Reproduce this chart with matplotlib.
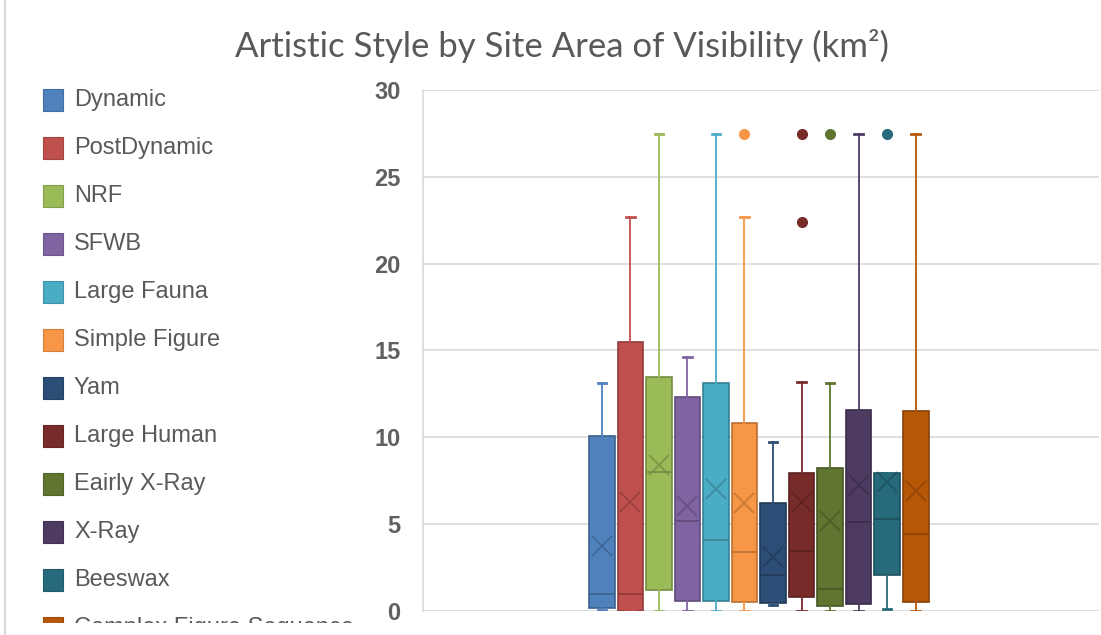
import numpy as np
import matplotlib
matplotlib.use("Agg")
import matplotlib.pyplot as plt
from matplotlib.lines import Line2D
from matplotlib.patches import Rectangle
from matplotlib.colors import to_rgb

plt.rcParams['font.family'] = ['Liberation Sans', 'DejaVu Sans']

series = ["Dynamic", "PostDynamic", "NRF", "SFWB", "Large Fauna", "Simple Figure",
          "Yam", "Large Human", "Eairly X-Ray", "X-Ray", "Beeswax", "Complex Figure Sequence"]
colors = ["#4F81BD", "#C0504D", "#9BBB59", "#8064A2", "#4BACC6", "#F79646",
          "#2C4D75", "#772C2A", "#5F7530", "#4D3B62", "#276A7C", "#B65708"]

whislo = [0.05, 0.0, 0.0, 0.0, 0.0, 0.0, 0.35, 0.0, 0.0, 0.0, 0.1, 0.0]
q1 = [0.15, 0.0, 1.2, 0.6, 0.6, 0.5, 0.45, 0.8, 0.3, 0.4, 2.05, 0.5]
med = [1.0, 1.0, 8.0, 5.2, 4.1, 3.4, 2.05, 3.45, 1.25, 5.15, 5.3, 4.45]
q3 = [10.1, 15.5, 13.45, 12.3, 13.1, 10.8, 6.2, 7.95, 8.25, 11.6, 7.95, 11.5]
whishi = [13.1, 22.7, 27.45, 14.6, 27.45, 22.7, 9.75, 13.2, 13.1, 27.45, 7.95, 27.45]
means = [3.75, 6.3, 8.4, 6.05, 7.05, 6.2, 3.1, 6.3, 5.2, 7.25, 7.45, 6.9]
fliers = [[], [], [], [], [], [27.45], [], [27.45, 22.4], [27.45], [], [27.45], []]

title = "Artistic Style by Site Area of Visibility (km²)"
yticks = [0, 5, 10, 15, 20, 25, 30]


def darker(c, f=0.75):
    r, g, b = to_rgb(c)
    return (r * f, g * f, b * f)


W, H = 1101, 635
fig = plt.figure(figsize=(W / 100, H / 100), dpi=100)
ax = fig.add_axes([0.384, 0.0378, 0.614, 0.8205])

n = len(series)
step = 0.0422
positions = 0.497 + (np.arange(n) - (n - 1) / 2) * step

for i in range(n):
    stats = [dict(med=med[i], q1=q1[i], q3=q3[i], whislo=whislo[i], whishi=whishi[i],
                  mean=means[i], fliers=fliers[i])]
    c = colors[i]
    dk = darker(c)
    ax.bxp(stats, positions=[positions[i]], widths=step * 0.9, patch_artist=True,
           showmeans=True,
           boxprops=dict(facecolor=c, edgecolor=dk, linewidth=1.2),
           medianprops=dict(color=dk, linewidth=1.2),
           whiskerprops=dict(color=c, linewidth=1.3),
           capprops=dict(color=c, linewidth=2),
           capwidths=step * 0.3,
           meanprops=dict(marker="x", markersize=14, markeredgecolor=dk,
                          markeredgewidth=1.3, alpha=0.75),
           flierprops=dict(marker="o", markersize=7, markerfacecolor=c,
                           markeredgecolor=c))

ax.set_xlim(0, 1)
ax.set_ylim(0, 30)
ax.set_yticks(yticks)
ax.set_yticklabels([str(t) for t in yticks], fontsize=17, color="#606060",
                   fontweight="bold")
ax.set_xticks([])
ax.tick_params(axis="y", length=0, pad=16)
ax.grid(axis="y", color="#D9D9D9", linewidth=1.2)
ax.set_axisbelow(True)
for s in ["top", "right", "bottom"]:
    ax.spines[s].set_visible(False)
ax.spines["left"].set_color("#D9D9D9")
ax.spines["left"].set_linewidth(1.2)

fig.text(0.510, 0.928, title, ha="center", va="center", fontsize=25,
         color="#595959", family=["Lato", "DejaVu Sans"])

# legend down the left edge; the last entry is cut off at the bottom
clip = Rectangle((0, (H - 623) / H), 1, 1, transform=fig.transFigure)
for i, name in enumerate(series):
    ypix = 100 + 48 * i
    yf = 1 - ypix / H
    sq = Rectangle((43 / W, yf - 11 / H), 20 / W, 22 / H,
                   transform=fig.transFigure, facecolor=colors[i],
                   edgecolor=darker(colors[i], 0.85), linewidth=0.8)
    fig.patches.append(sq)
    sq.set_clip_path(clip)
    t = fig.text(74 / W, yf, name, ha="left", va="center", fontsize=17, color="#595959")
    t.set_clip_path(clip)

fig.add_artist(Line2D([5 / W, 5 / W], [0, 1], color="#D9D9D9", linewidth=1.5))

fig.savefig("out.png", dpi=100, facecolor="white")
